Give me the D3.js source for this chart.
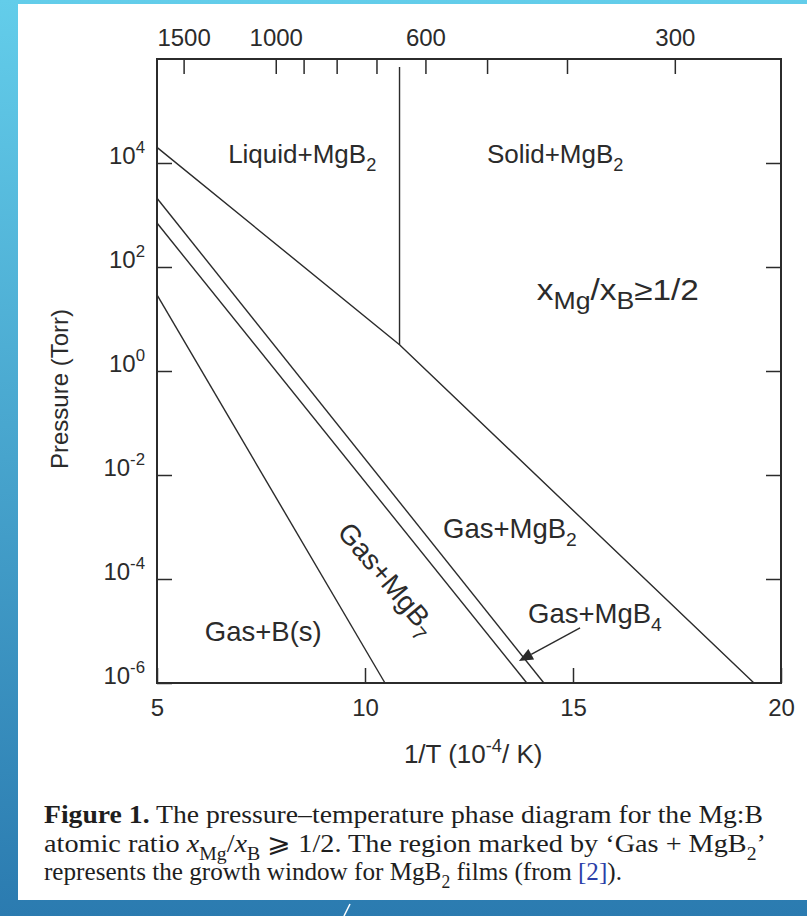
<!DOCTYPE html>
<html>
<head>
<meta charset="utf-8">
<script src="https://cdn.jsdelivr.net/npm/d3@7"></script>
<style>
  html, body { margin: 0; padding: 0; background: #fff; }
  svg { display: block; }
</style>
</head>
<body>
<script>
// axis ranges and ticks
const invTDomain = [5, 20];            // 1/T in 1e-4 / K
const pressureDomain = [1e-6, 1e6];    // Torr
const invTTicks = [5, 10, 15, 20];
const pressureTicks = [1e-6, 1e-4, 1e-2, 1e0, 1e2, 1e4];
const tempTicksC = [1500, 1000, 900, 800, 700, 600, 500, 400, 300];
const tempLabelsC = [1500, 1000, 600, 300];

// phase boundaries as [1/T, P]
const mgB2Boundary = [[5, 2.0e4], [10.83, 3.2], [19.35, 1e-6]];
const mgB4Upper = [[5, 2.1e3], [14.30, 1e-6]];
const mgB4Lower = [[5, 7.0e2], [13.89, 1e-6]];
const mgB7Lower = [[5, 29], [10.48, 1e-6]];
const meltLine = [[10.83, 7e5], [10.83, 3.2]];

const W = 807, H = 916;
const margin = { left: 157, top: 59 };
const plotW = 624, plotH = 624;
const ink = "#2b2b2b";
const sans = "'Liberation Sans', Arial, Helvetica, sans-serif";
const serif = "'Liberation Serif', 'Times New Roman', 'DejaVu Serif', serif";

const svg = d3.select("body").append("svg")
    .attr("width", W)
    .attr("height", H);

// slide background
const grad = svg.append("defs").append("linearGradient")
    .attr("id", "bg").attr("x1", 0).attr("y1", 0).attr("x2", 0).attr("y2", 1);
grad.append("stop").attr("offset", "0%").attr("stop-color", "#63cdea");
grad.append("stop").attr("offset", "100%").attr("stop-color", "#2b7bb0");
svg.append("rect").attr("width", W).attr("height", H).attr("fill", "url(#bg)");
svg.append("rect").attr("x", 18).attr("y", 4).attr("width", W - 18).attr("height", 896).attr("fill", "#fff");
svg.append("line").attr("x1", 344).attr("y1", 916).attr("x2", 350).attr("y2", 904)
    .attr("stroke", "#fff").attr("stroke-width", 1.5);

const x = d3.scaleLinear().domain(invTDomain).range([margin.left, margin.left + plotW]);
const y = d3.scaleLog().domain(pressureDomain).range([margin.top + plotH, margin.top]);

// writes text made of parts with optional sub/superscripts
function richText(sel, parts, size, subRatio = 0.7) {
    let cur = 0;
    parts.forEach(p => {
        const s = typeof p === "string" ? { t: p } : p;
        const shift = s.sub ? 0.3 * size : s.sup ? -0.42 * size : 0;
        const ts = sel.append("tspan").text(s.t)
            .attr("dy", shift - cur)
            .attr("font-size", (s.sub || s.sup) ? size * subRatio : size);
        if (s.it) ts.attr("font-style", "italic");
        if (s.b) ts.attr("font-weight", "bold");
        if (s.fill) ts.attr("fill", s.fill);
        if (s.font) ts.attr("font-family", s.font);
        cur = shift;
    });
}

const g = svg.append("g").attr("font-family", sans).attr("fill", ink);

// axes with inward ticks
function styleAxis(a) {
    a.select(".domain").remove();
    a.selectAll(".tick line").attr("stroke", ink).attr("stroke-width", 1.5);
    a.selectAll(".tick text").attr("fill", ink).attr("font-family", sans).attr("font-size", 24);
}

g.append("g")
    .attr("transform", `translate(0,${margin.top + plotH})`)
    .call(d3.axisBottom(x).tickValues(invTTicks).tickSize(-15).tickPadding(16).tickFormat(d3.format("d")))
    .call(styleAxis);

g.append("g")
    .attr("transform", `translate(0,${margin.top})`)
    .call(d3.axisTop(x)
        .tickValues(tempTicksC.map(t => 1e4 / (t + 273.15)))
        .tickSize(-15).tickPadding(13)
        .tickFormat((d, i) => tempLabelsC.includes(tempTicksC[i]) ? tempTicksC[i] : ""))
    .call(styleAxis);

const leftAxis = g.append("g")
    .attr("transform", `translate(${margin.left},0)`)
    .call(d3.axisLeft(y).tickValues(pressureTicks).tickSize(-15).tickPadding(12))
    .call(styleAxis);
leftAxis.selectAll(".tick text").each(function (d) {
    const t = d3.select(this).text(null);
    richText(t, ["10", { t: String(Math.round(Math.log10(d))), sup: true }], 24);
});

g.append("g")
    .attr("transform", `translate(${margin.left + plotW},0)`)
    .call(d3.axisRight(y).tickValues(pressureTicks.slice(1)).tickSize(-15).tickFormat(""))
    .call(styleAxis);

// frame
g.append("rect")
    .attr("x", margin.left).attr("y", margin.top)
    .attr("width", plotW).attr("height", plotH)
    .attr("fill", "none").attr("stroke", ink).attr("stroke-width", 2);

// boundaries
const line = d3.line().x(d => x(d[0])).y(d => y(d[1]));
[mgB2Boundary, mgB4Upper, mgB4Lower, mgB7Lower, meltLine].forEach(pts => {
    g.append("path").datum(pts)
        .attr("d", line)
        .attr("fill", "none")
        .attr("stroke", ink)
        .attr("stroke-width", 1.4);
});

// region labels
function label(xv, pv, parts, opts = {}) {
    const size = opts.size || 26;
    const t = g.append("text")
        .attr("x", x(xv)).attr("y", y(pv))
        .attr("font-size", size);
    if (opts.anchor) t.attr("text-anchor", opts.anchor);
    if (opts.rotate) t.attr("transform", `rotate(${opts.rotate},${x(xv)},${y(pv)})`);
    if (opts.len) t.attr("textLength", opts.len).attr("lengthAdjust", "spacingAndGlyphs");
    richText(t, parts, size, opts.subRatio || 0.7);
    return t;
}
label(6.71, 1e4, ["Liquid+MgB", { t: "2", sub: true }]);
label(12.93, 1e4, ["Solid+MgB", { t: "2", sub: true }]);
label(14.13, 23, ["x", { t: "Mg", sub: true }, "/x", { t: "B", sub: true }, "≥1/2"], { size: 29, subRatio: 0.8, len: 162 });
label(11.875, 6.2e-4, ["Gas+MgB", { t: "2", sub: true }], { size: 27.5 });
label(13.92, 1.43e-5, ["Gas+MgB", { t: "4", sub: true }], { size: 27.5 });
label(6.15, 6.4e-6, ["Gas+B(s)"], { size: 27.5 });
label(10.36, 7.7e-5, ["Gas+MgB", { t: "7", sub: true }], { size: 28, anchor: "middle", rotate: 50 });

// arrow to the MgB4 strip
const arrowFrom = [15.17, 1.15e-5], arrowTo = [13.70, 2.65e-6];
const ax0 = x(arrowFrom[0]), ay0 = y(arrowFrom[1]), ax1 = x(arrowTo[0]), ay1 = y(arrowTo[1]);
const ang = Math.atan2(ay1 - ay0, ax1 - ax0);
const headLen = 14, headW = 6;
const bx = ax1 - headLen * Math.cos(ang), by = ay1 - headLen * Math.sin(ang);
g.append("line").attr("x1", ax0).attr("y1", ay0).attr("x2", bx).attr("y2", by)
    .attr("stroke", ink).attr("stroke-width", 1.4);
g.append("path")
    .attr("d", `M${ax1},${ay1}L${bx - headW * Math.sin(ang)},${by + headW * Math.cos(ang)}L${bx + headW * Math.sin(ang)},${by - headW * Math.cos(ang)}Z`)
    .attr("fill", ink);

// axis titles
g.append("text")
    .attr("transform", `translate(68,${margin.top + plotH / 2 + 18}) rotate(-90)`)
    .attr("text-anchor", "middle")
    .attr("font-size", 24)
    .text("Pressure (Torr)");

const xTitle = g.append("text")
    .attr("x", x(12.6)).attr("y", 763)
    .attr("text-anchor", "middle");
richText(xTitle, ["1/T (10", { t: "-4", sup: true }, "/ K)"], 26);

// caption
const cap = svg.append("g").attr("font-family", serif).attr("fill", "#1e1e1e");
const capLines = [
    [{ t: "Figure 1.", b: true }, " The pressure–temperature phase diagram for the Mg:B"],
    ["atomic ratio ", { t: "x", it: true }, { t: "Mg", sub: true }, "/", { t: "x", it: true }, { t: "B", sub: true },
        " ", { t: "⩾", font: "'DejaVu Serif', serif" }, " 1/2. The region marked by ‘Gas + MgB", { t: "2", sub: true }, "’"],
    ["represents the growth window for MgB", { t: "2", sub: true }, " films (from ", { t: "[2]", fill: "#2b3fa8" }, ")."]
];
const capY = [823, 852, 880];
const capLen = [719, 722, 578];
capLines.forEach((parts, i) => {
    const t = cap.append("text").attr("x", 44).attr("y", capY[i])
        .attr("textLength", capLen[i]).attr("lengthAdjust", "spacingAndGlyphs");
    richText(t, parts, 26);
});
</script>
</body>
</html>
